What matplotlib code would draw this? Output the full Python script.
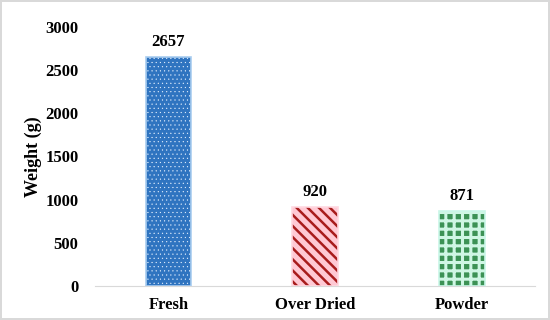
import matplotlib.pyplot as plt

categories = ["Fresh", "Over Dried", "Powder"]
weights = [2657, 920, 871]
y_ticks = [0, 500, 1000, 1500, 2000, 2500, 3000]

face_colors = ["#2F74C0", "#FFC9D4", "#3C9255"]
hatch_colors = ["#E8F2FF", "#A81C1C", "#CFF6E4"]
hatches = ["....", "\\\\\\", "++"]
hatch_widths = [0.3, 1.8, 2.2]
edge_colors = ["#A9CDF0", "#FFD9E1", "#C9F6E8"]

plt.rcParams["font.family"] = ["Liberation Serif", "DejaVu Serif"]
plt.rcParams["font.weight"] = "bold"

fig = plt.figure(figsize=(5.5, 3.2), dpi=100)
fig.patch.set_edgecolor("#D9D9D9")
fig.patch.set_linewidth(1.5)
ax = fig.add_axes([0.173, 0.106, 0.80, 0.81])

x = range(len(categories))
width = 0.31
for i, (xi, w) in enumerate(zip(x, weights)):
    ax.bar(xi, w, width=width, color=face_colors[i], edgecolor="none", zorder=2)
    plt.rcParams["hatch.linewidth"] = hatch_widths[i]
    ax.bar(xi, w, width=width, color="none", edgecolor=hatch_colors[i],
           hatch=hatches[i], linewidth=0, zorder=3)
    ax.bar(xi, w, width=width, color="none", edgecolor=edge_colors[i],
           linewidth=1.2, zorder=4)
    ax.annotate(str(w), (xi, w), xytext=(0, 5), textcoords="offset points",
                ha="center", va="bottom", fontsize=12, fontweight="bold")

ax.set_xlim(-0.5, 2.5)
ax.set_ylim(0, 3000)
ax.set_yticks(y_ticks)
ax.set_xticks(list(x))
ax.set_xticklabels(categories)
ax.tick_params(axis="both", length=0, labelsize=12)
ax.tick_params(axis="y", pad=12)
ax.tick_params(axis="x", pad=8)
for s in ["top", "right", "left"]:
    ax.spines[s].set_visible(False)
ax.spines["bottom"].set_color("#D9D9D9")
ax.set_ylabel("Weight (g)", fontsize=13, fontweight="bold", labelpad=2)

fig.savefig("out.png", dpi=100)
